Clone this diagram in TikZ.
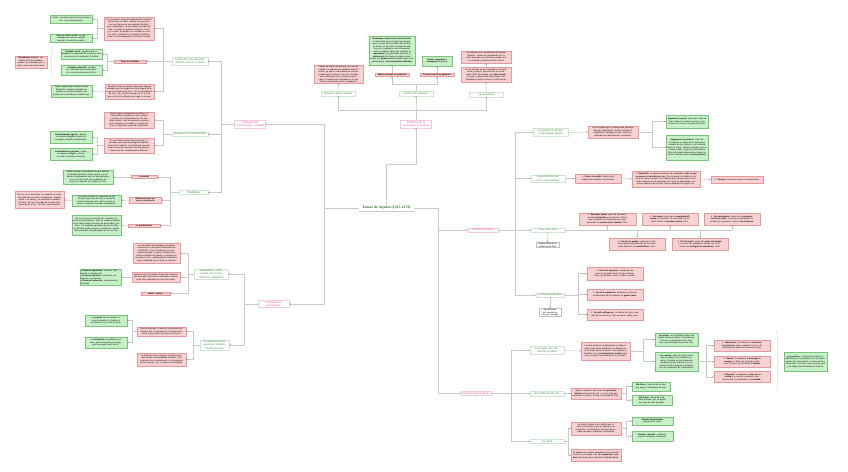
\documentclass[tikz,border=0pt]{standalone}
\usepackage{fontspec}
\setmainfont{Liberation Sans}
\newfontfamily\titlefont{Liberation Serif}
\usetikzlibrary{arrows.meta,shadows,decorations.pathreplacing}

\definecolor{pkfill}{HTML}{F8D2D2}
\definecolor{pkline}{HTML}{E49A9A}
\definecolor{grfill}{HTML}{C8F0C8}
\definecolor{grline}{HTML}{78C478}
\definecolor{tgtext}{HTML}{3F8F3F}
\definecolor{tgline}{HTML}{CDE4CD}
\definecolor{tptext}{HTML}{E2579B}
\definecolor{tpline}{HTML}{F6C8DA}
\definecolor{connc}{HTML}{C9C9C9}

\tikzset{
  boxbase/.style={font=\fontsize{2.1}{2.5}\selectfont, align=center, inner xsep=1pt, inner ysep=0.6pt, line width=0.35pt,
    drop shadow={opacity=0.18, shadow xshift=0.4pt, shadow yshift=-0.4pt}},
  pink/.style={boxbase, draw=pkline, fill=pkfill, text width=#1},
  green/.style={boxbase, draw=grline, fill=grfill, text width=#1},
  note/.style={boxbase, draw=gray!50, fill=white, text width=#1},
  topicg/.style={font=\fontsize{2.7}{3.2}\selectfont, align=center, inner xsep=1pt, inner ysep=1pt, draw=tgline, fill=white, text=tgtext, line width=0.45pt, text width=#1},
  topicp/.style={font=\fontsize{2.7}{3.2}\selectfont, align=center, inner xsep=1pt, inner ysep=1pt, draw=tpline, fill=white, text=tptext, line width=0.45pt, text width=#1},
  conn/.style={draw=connc, line width=0.5pt},
  arr/.style={conn, -{Stealth[length=1.5pt, width=1.3pt, color=gray!90]}},
  bracec/.style={draw=connc, line width=0.4pt, decorate, decoration={brace, amplitude=2.5pt}}
}

\begin{document}
\begin{tikzpicture}[x=1pt, y=-1pt]
  \useasboundingbox[fill=white] (0,0) rectangle (848,471);

  % centro
  \node[font=\titlefont\fontsize{3.8}{4.4}\selectfont, text=tgtext!80!black, inner xsep=3pt, inner ysep=1pt] (tomas) at (386.5,208) {\textbf{Tomás de Aquino (1225-1274)}};
  \draw[conn] (tomas.south west) -- (tomas.south east);

  % ---------- sociedad y politica
  \node[topicp=29pt] (psoc) at (416,124) {Problema de la sociedad y la política};
  \node[topicg=32pt] (igl) at (338,93.5) {Relación iglesia-estado};
  \node[topicg=32pt] (gob) at (416,93.5) {Formas de gobierno};
  \node[topicg=32pt] (pas) at (486.5,94.5) {Las pasiones};
  \node[pink=47pt, minimum height=17pt] (iglA) at (338.5,74.5) {Tomás de Aquino afirma que, en caso de conflicto, la iglesia tiene primacía sobre el estado, ya que lo sobrenatural es más importante que lo natural. Aun así, el estado tiene autonomía en los asuntos temporales y la iglesia solo interviene en lo que afecta a la salvación de los ciudadanos.};
  \node[pink=32pt] (mejor) at (392,75) {\textbf{Mejores formas de gobierno}};
  \node[pink=32pt] (peor) at (437,75) {\textbf{Peores formas de gobierno}};
  \node[green=44pt, minimum height=29pt] (mejorA) at (392,50.5) {\textbf{Monarquía, aristocracia y democracia}: la monarquía sería el mejor tipo de gobierno, ya que imita el orden del universo, en el que un solo Dios lo gobierna todo. Aun así, el gobierno más conveniente sería un régimen mixto que combine la \textbf{monarquía} (un gobernante virtuoso), la \textbf{aristocracia} (los mejores ayudan a gobernar) y la \textbf{democracia} (el pueblo elige a sus gobernantes): \textbf{una monarquía moderada}.};
  \node[green=28pt, minimum height=10pt] (peorA) at (437,61) {\textbf{Tiranía, oligarquía y demagogia} (impuras)};
  \node[pink=48pt, minimum height=15pt] (pasA) at (486,74.5) {El ser humano es por naturaleza un animal social y político: necesita vivir en comunidad. El fin del estado es el \textbf{bien común} y la paz; el gobernante debe dirigir a los ciudadanos hacia la virtud y la vida buena.};
  \node[pink=48pt, minimum height=12pt] (pasB) at (486,57) {Las pasiones son movimientos del apetito sensitivo. Deben ser gobernadas por la razón para que el ser humano pueda vivir en sociedad y alcanzar el bien común.};

  \draw[arr] (psoc.north) -- ++(0,-10) -| (igl.south);
  \draw[arr] (psoc.north) -- ++(0,-10) -| (gob.south);
  \draw[arr] (psoc.north) -- ++(0,-10) -| (pas.south);
  \draw[arr] (igl.north) -- (iglA.south);
  \draw[arr] (gob.north) -- ++(0,-7) -| (mejor.south);
  \draw[arr] (gob.north) -- ++(0,-7) -| (peor.south);
  \draw[arr] (mejor.north) -- (mejorA.south);
  \draw[arr] (peor.north) -- (peorA.south);
  \draw[arr] (pas.north) -- (pasA.south);
  \draw[arr] (pasA.north) -- (pasB.south);

  % ---------- conocimiento y realidad
  \node[topicp=29pt] (pconoc) at (250,124) {Problema del conocimiento y realidad};
  \node[topicg=34pt] (teoria) at (190,61.5) {Teoría del conocimiento: relación entre fe y razón};
  \node[topicg=34pt] (alma) at (190,134) {El alma y el conocimiento};
  \node[topicg=27pt] (meta) at (193.5,192.5) {Metafísica};

  \node[pink=48pt, minimum height=23pt] (tA) at (129,28.5) {En esta época surgió el problema de la relación entre la fe y la razón. Aquino cree que ambas son fuentes de conocimiento distintas pero compatibles, ya que ambas proceden de Dios. La razón no puede contradecir a la fe y, si lo hace, es porque ha cometido un error. Por tanto, la filosofía y la teología colaboran entre sí en la búsqueda de una única verdad.};
  \node[pink=30pt] (tB) at (130,61.5) {\textbf{Tipos de verdades}};
  \node[pink=47pt, minimum height=15pt] (tC) at (129.5,91.5) {Desde la razón se pueden demostrar algunas verdades que la teología da como dogma de fe, como la existencia de Dios. Son los preámbulos de la fe. Así, la razón ayuda a la fe, y la fe guía a la razón evitando que caiga en errores.};
  \node[green=40pt, minimum height=8pt] (tA1) at (71,19) {• Razón: facultad natural del ser humano\\ • Fe: vías sobrenaturales};
  \node[green=40pt, minimum height=8pt] (tA2) at (71,38) {Niega la doble verdad: no hay contradicción entre la verdad racional y la verdad revelada};
  \node[green=39pt, minimum height=10pt] (tB1) at (81.5,54) {\textbf{Verdades de fe}: aquellas que sobrepasan la capacidad de la razón y solo se conocen por revelación (Trinidad).};
  \node[green=39pt, minimum height=10pt] (tB2) at (81.5,70) {\textbf{Verdades naturales}: pueden ser conocidas por la razón natural, como la existencia de Dios.};
  \node[pink=30pt, minimum height=12pt] (pream) at (31,62) {\textbf{Preámbulos de la fe}: verdades de fe que también pueden ser conocidas por la razón, como que Dios existe.};
  \node[green=39pt, minimum height=12pt] (tC1) at (71.5,91) {Aquino piensa que teología natural (filosofía) y teología revelada coinciden en ciertas verdades, que pueden ser conocidas por ambas vías.};

  \node[pink=48pt, minimum height=16pt] (aA) at (129,120) {Aquino sigue el esquema aristotélico: el conocimiento comienza en los sentidos y termina en el entendimiento. No hay ideas innatas: todo conocimiento procede de la experiencia sensible, y la razón abstrae lo universal a partir de lo particular.};
  \node[pink=48pt, minimum height=15pt] (aB) at (129,145.5) {El conocimiento tiene dos momentos: el sensible, que capta las imágenes (fantasmas) de los objetos, y el intelectual, que abstrae la esencia universal. En este proceso intervienen dos entendimientos distintos.};
  \node[green=40pt, minimum height=12pt] (aB1) at (71,137) {\textbf{Entendimiento agente}: abstrae la especie inteligible a partir de la imagen sensible, iluminándola.};
  \node[green=40pt, minimum height=12pt] (aB2) at (71,154) {\textbf{Entendimiento paciente}: recibe la especie inteligible y forma con ella el concepto universal.};

  \node[pink=24pt] (mV) at (144,177) {\textbf{La verdad}};
  \node[pink=30pt] (mD) at (145.5,200) {\textbf{Diferencia entre esencia y existencia}};
  \node[pink=30pt] (mP) at (144,225.5) {\textbf{La participación}};
  \node[green=48pt, minimum height=14pt] (mV1) at (88,177) {Aquino acepta la concepción de que Dios es la verdad suprema y el ser mismo. La verdad es la adecuación entre el entendimiento y la cosa; las cosas son verdaderas en cuanto se adecuan a la mente de Dios.};
  \node[green=47pt, minimum height=11pt] (mD1) at (96.5,200.5) {Los seres creados se componen de esencia (lo que una cosa es) y existencia (el hecho de que sea). Solo en Dios esencia y existencia coinciden plenamente.};
  \node[pink=47pt, minimum height=17pt] (mD2) at (39.5,200) {Dios es el ser necesario: su esencia es existir. Las criaturas son seres contingentes: pueden existir o no existir, y la existencia la reciben de Dios, que las ha creado de la nada y las mantiene en el ser. Sin Dios, nada existiría.};
  \node[green=47pt, minimum height=20pt] (mP1) at (96.5,225) {Dios es el ser por esencia; las criaturas son seres por participación. Dios ha creado el mundo de la nada (creatio ex nihilo) de forma libre y por amor. Las criaturas participan del ser de Dios en distintos grados según su perfección: cuanto más perfectas, más participan del ser de Dios.};

  \draw[arr] (pconoc.west) -- ++(-13.5,0) |- (teoria.east);
  \draw[arr] (pconoc.west) -- ++(-13.5,0) |- (alma.east);
  \draw[arr] (pconoc.west) -- ++(-13.5,0) |- (meta.east);
  \draw[arr] (teoria.west) -- ++(-9,0) |- (tA.east);
  \draw[arr] (teoria.west) -- ++(-9,0) |- (tB.east);
  \draw[arr] (teoria.west) -- ++(-9,0) |- (tC.east);
  \draw[arr] (tA.west) -- ++(-7,0) |- (tA1.east);
  \draw[arr] (tA.west) -- ++(-7,0) |- (tA2.east);
  \draw[arr] (tB.west) -- ++(-7,0) |- (tB1.east);
  \draw[arr] (tB.west) -- ++(-7,0) |- (tB2.east);
  \draw[arr] (tC.west) -- (tC1.east);
  \draw[bracec] (53,77) -- (53,47);
  \draw[arr] (alma.west) -- ++(-9,0) |- (aA.east);
  \draw[arr] (alma.west) -- ++(-9,0) |- (aB.east);
  \draw[arr] (aB.west) -- ++(-7,0) |- (aB1.east);
  \draw[arr] (aB.west) -- ++(-7,0) |- (aB2.east);
  \draw[arr] (meta.west) -- ++(-9,0) |- (mV.east);
  \draw[arr] (meta.west) -- ++(-9,0) |- (mD.east);
  \draw[arr] (meta.west) -- ++(-9,0) |- (mP.east);
  \draw[arr] (mV.west) -- (mV1.east);
  \draw[arr] (mD.west) -- (mD1.east);
  \draw[arr] (mD1.west) -- (mD2.east);
  \draw[arr] (mP.west) -- (mP1.east);

  % ---------- ser humano
  \node[topicp=29pt] (pser) at (273.5,304) {Problema del ser humano};
  \node[topicg=32pt] (rel) at (211.5,274) {Relaciones y diferencias con el hilemorfismo aristotélico};
  \node[topicg=27pt] (dist) at (214.5,345) {La distinción entre esencia y existencia de la forma};
  \node[pink=45pt, minimum height=20pt] (rA) at (156.5,253) {La concepción antropológica de Aquino se basa en la concepción hilemórfica de Aristóteles: el ser humano es un compuesto de alma y cuerpo. El alma es la forma sustancial del cuerpo y el cuerpo es la materia. Pero, a diferencia de Aristóteles, Aquino defiende que el alma es inmortal.};
  \node[pink=46pt, minimum height=10pt] (rB) at (156,277) {Aquino aceptó el análisis de las tres potencias del alma que había hecho Aristóteles, aunque todas ellas dependen de una única alma.};
  \node[pink=27pt] (rC) at (155.5,293.5) {\textbf{Alma + cuerpo}};
  \node[green=39pt, minimum height=16pt, align=left] (rB1) at (100.5,277) {• \textbf{Potencia vegetativa}: nutrición, crecimiento y reproducción\\ • \textbf{Potencia sensitiva}: sensación, percepción y movimiento\\ • \textbf{Potencia intelectiva}: conocimiento y voluntad};
  \node[pink=47pt, minimum height=9pt] (dA) at (161.5,331.5) {Para el pensador, el alma es una forma subsistente, que no depende de la materia para existir y que posee su propio acto de ser.};
  \node[pink=47pt, minimum height=13pt] (dB) at (161.5,359.5) {La distinción entre esencia y existencia permite afirmar la inmortalidad del alma: esta recibe de Dios su existencia y no la pierde al morir el cuerpo. Así, el alma es incorruptible.};
  \node[green=40pt, minimum height=11pt] (dA1) at (106,320.5) {La \textbf{esencia} del ser humano incluye la materia y la forma: el ser humano no es solo su alma.};
  \node[green=40pt, minimum height=11pt] (dA2) at (106,342.5) {La \textbf{existencia} es recibida por el alma, que la comunica al cuerpo; por eso puede existir sin él.};

  \draw[arr] (pser.west) -- ++(-14,0) |- (rel.east);
  \draw[arr] (pser.west) -- ++(-14,0) |- (dist.east);
  \draw[arr] (rel.west) -- ++(-6,0) |- (rA.east);
  \draw[arr] (rel.west) -- ++(-6,0) |- (rB.east);
  \draw[arr] (rel.west) -- ++(-6,0) |- (rC.east);
  \draw[arr] (rB.west) -- (rB1.east);
  \draw[arr] (dist.west) -- ++(-7,0) |- (dA.east);
  \draw[arr] (dist.west) -- ++(-7,0) |- (dB.east);
  \draw[arr] (dA.west) -- ++(-5,0) |- (dA1.east);
  \draw[arr] (dA.west) -- ++(-5,0) |- (dA2.east);

  % ---------- tronco
  \draw[arr] (tomas.west) -- ++(-35,0) |- (pconoc.east);
  \draw[arr] (tomas.west) -- ++(-35,0) |- (pser.east);
  \draw[arr] (tomas.north) -- ++(0,-41) -| (psoc.south);

  % ---------- Dios
  \node[topicp=28pt] (pdios) at (483,230) {Problema de Dios};
  \node[topicp=28pt] (pmoral) at (476,393.5) {Problema de la moral};
  \draw[arr] (tomas.east) -- ++(24,0) |- (pdios.west);
  \draw[arr] (tomas.east) -- ++(24,0) |- (pmoral.west);

  \node[topicg=33pt] (exist) at (550.5,132.5) {La existencia de Dios y la teología natural};
  \node[topicg=32pt] (estr) at (548,178.5) {Estructura de las cinco vías tomistas};
  \node[topicg=32pt] (vias) at (548,230) {Las cinco vías};
  \node[topicg=26pt] (esen) at (550,295) {La esencia de Dios};
  \draw[arr] (pdios.east) -- ++(17,0) |- (exist.west);
  \draw[arr] (pdios.east) -- ++(17,0) |- (estr.west);
  \draw[arr] (pdios.east) -- ++(17,0) |- (vias.west);
  \draw[arr] (pdios.east) -- ++(17,0) |- (esen.west);

  \node[pink=48pt, minimum height=12pt] (exA) at (613,132) {No es evidente por sí misma para nosotros: hay que demostrarla. Aquino rechaza el argumento ontológico de san Anselmo y defiende una demostración a posteriori.};
  \node[green=40pt, minimum height=13pt] (exA1) at (687,121.5) {\textbf{Argumento a priori}: parte de la idea de Dios; Aquino lo rechaza porque el ser humano no conoce la esencia de Dios.};
  \node[green=40pt, minimum height=25pt] (exA2) at (687,147.5) {\textbf{Argumento a posteriori}: parte de los efectos, es decir, de la experiencia sensible de las criaturas, y se remonta hasta su causa. Aquino considera que es el único válido, ya que la existencia de Dios solo puede demostrarse desde los efectos visibles hasta \textbf{la causa primera}.};
  \draw[arr] (exist.east) -- (exA.west);
  \draw[arr] (exA.east) -- ++(14,0) |- (exA1.west);
  \draw[arr] (exA.east) -- ++(14,0) |- (exA2.west);

  \node[pink=44pt, minimum height=9pt] (eS1) at (598,178.5) {1. \textbf{Punto de partida}: hecho de la experiencia sensible (a posteriori).};
  \node[pink=66pt, minimum height=16pt] (eS2) at (666,179) {2. \textbf{Desarrollo}: se aplica el principio de causalidad: \textbf{todo lo que se mueve es movido por otro}. No se puede ir al infinito en la serie de causas, porque si no hubiera una primera causa no existiría ninguna de las siguientes; por tanto, se debe llegar a un primer elemento de la serie, que no depende de ningún otro.};
  \node[pink=50pt, minimum height=7pt] (eS3) at (737,179.5) {3. \textbf{Término}: la primera causa es siempre Dios.};
  \draw[arr] (estr.east) -- (eS1.west);
  \draw[arr] (eS1.east) -- (eS2.west);
  \draw[arr] (eS2.east) -- (eS3.west);

  \node[note=21pt] (demo) at (547.5,245) {Demostración de la existencia de Dios};
  \draw[arr] (vias.south) -- (demo.north);
  \node[pink=55pt, minimum height=12pt] (v1) at (607.5,219) {1. \textbf{El primer motor}: parte de la existencia del \textbf{movimiento} en el mundo. Todo lo que se mueve es movido por otro; tiene que haber un \textbf{primer motor inmóvil}: Dios.};
  \node[pink=54pt, minimum height=12pt] (v2) at (670,219) {2. \textbf{Vía causal}: parte de la \textbf{causalidad eficiente} en el mundo. No se puede ir al infinito; existe una \textbf{primera causa}: Dios.};
  \node[pink=54pt, minimum height=12pt] (v3) at (732,219) {3. \textbf{Vía contingente}: parte de la \textbf{contingencia de los seres}. Los seres contingentes no existen por sí mismos: hay un \textbf{ser necesario}.};
  \node[pink=54pt, minimum height=12pt] (v4) at (637,244) {4. \textbf{Vía de los grados}: parte de los distintos grados de perfección de los seres. Debe existir un ser \textbf{perfectísimo}: Dios.};
  \node[pink=54pt, minimum height=12pt] (v5) at (700,244) {5. \textbf{Vía del orden}: parte del \textbf{orden del mundo}. Los seres sin inteligencia actúan con un fin; existe una \textbf{inteligencia ordenadora}: Dios.};
  \draw[conn] (vias.east) -- (v3.south |- vias.east);
  \foreach \v in {v1,v2,v3,v4,v5}
    \draw[arr] (\v.center |- vias.east) -- (\v);

  \node[note=20pt] (aprox) at (550,312.5) {Aproximación a la esencia de Dios por analogía};
  \draw[arr] (esen.south) -- (aprox.north);
  \node[pink=54pt, minimum height=13pt] (e1) at (615,273.5) {1. \textbf{Vía de la negación}: eliminamos de Dios las imperfecciones de las criaturas: Dios es inmutable, eterno, infinito y simple.};
  \node[pink=54pt, minimum height=11pt] (e2) at (615,294.5) {2. \textbf{Vía de la eminencia}: atribuimos a Dios las perfecciones de las criaturas en \textbf{grado sumo}.};
  \node[pink=54pt, minimum height=11pt] (e3) at (615,314.5) {3. \textbf{Vía de la afirmación}: se afirma de Dios lo positivo de las criaturas: Dios es bueno, sabio, justo.};
  \draw[arr] (esen.east) -- ++(14,0) |- (e1.west);
  \draw[arr] (esen.east) -- ++(14,0) |- (e2.west);
  \draw[arr] (esen.east) -- ++(14,0) |- (e3.west);

  % ---------- moral
  \node[topicg=32pt] (leyes) at (547,350.5) {Las leyes: ley natural, ley positiva};
  \node[topicg=32pt] (mal) at (547,393.5) {El problema del mal};
  \node[topicg=32pt] (virt) at (547,441.5) {La virtud};
  \draw[arr] (pmoral.east) -- ++(20,0) |- (leyes.west);
  \draw[arr] (pmoral.east) -- ++(20,0) |- (mal.west);
  \draw[arr] (pmoral.east) -- ++(20,0) |- (virt.west);

  \node[pink=47pt, minimum height=18pt] (lA) at (605.5,351) {La ética tomista es eudemonista e intelectualista, como la de Aristóteles: la felicidad es el fin último del ser humano. Pero Aquino la identifica con la \textbf{contemplación de Dios}, que solo se alcanza plenamente en la otra vida.};
  \node[green=41pt, minimum height=13pt] (lG1) at (676.5,339.5) {\textbf{Ley eterna}: es el gobierno divino del mundo hecho por Dios, la Providencia. Esta ley se encuentra en las criaturas, que participan del ser de Dios.};
  \node[green=41pt, minimum height=19pt] (lG2) at (676.5,361.5) {\textbf{Ley natural}: parte de la ley eterna que se refleja en la condición humana. Consiste en las tendencias naturales del ser humano y se expresa en tres preceptos en relación con las tendencias de la naturaleza.};
  \node[pink=54pt, minimum height=11pt] (n1) at (742,345.5) {1. \textbf{Naturaleza}: la tendencia a \textbf{conservar la existencia}, como cualquier otro ser; de ella deriva el deber de conservar la vida.};
  \node[pink=54pt, minimum height=11pt] (n2) at (742,361.5) {2. \textbf{Animal}: la tendencia a \textbf{propagar la especie}: el deber de procrear y educar a los hijos; de ahí deriva la \textbf{familia}.};
  \node[pink=54pt, minimum height=11pt] (n3) at (742,377) {3. \textbf{Racional}: la tendencia a \textbf{vivir en sociedad} y a conocer la verdad; el deber de vivir en comunidad: la \textbf{sociedad}.};
  \node[green=41pt, minimum height=19pt] (lpos) at (805.5,361.5) {\textbf{Ley positiva}: conjunto de normas establecidas por la sociedad. Es una prolongación de la ley natural, y nunca puede ir contra ella; si lo hace, no es una ley justa y no obliga (iusnaturalismo de Aquino).};
  \draw[arr] (leyes.east) -- (lA.west);
  \draw[arr] (lA.east) -- ++(13,0) |- (lG1.west);
  \draw[arr] (lA.east) -- ++(13,0) |- (lG2.west);
  \draw[arr] (lG2.east) -- ++(8,0) |- (n1.west);
  \draw[arr] (lG2.east) -- ++(8,0) |- (n2.west);
  \draw[arr] (lG2.east) -- ++(8,0) |- (n3.west);
  \draw[bracec] (776,331) -- (776,391);

  \node[pink=48pt, minimum height=11pt] (malA) at (596,393.5) {Aquino concibe el mal como una \textbf{privación de bien} (ausencia de ser), no como algo que exista por sí mismo. El mal no procede de Dios.};
  \node[green=36pt, minimum height=9pt] (mal1) at (651,386.5) {\textbf{Mal físico}: carencia de un bien que exige la naturaleza de algo.};
  \node[green=38pt, minimum height=10pt] (mal2) at (652,400) {\textbf{Mal moral}: deriva de la libertad humana, que se aparta de la ley de Dios (pecado).};
  \draw[arr] (mal.east) -- (malA.west);
  \draw[arr] (malA.east) -- ++(5,0) |- (mal1.west);
  \draw[arr] (malA.east) -- ++(5,0) |- (mal2.west);

  \node[pink=48pt, minimum height=13pt] (vA) at (596,428.5) {La virtud consiste en un hábito que inclina a obrar bien y que se adquiere con la práctica. Se distinguen dos tipos de virtudes naturales, siguiendo a Aristóteles.};
  \node[pink=48pt, minimum height=12pt] (vB) at (596,455) {Se añaden las virtudes teologales, que proceden de Dios y se dirigen a Él: \textbf{fe}, \textbf{esperanza} y \textbf{caridad}, necesarias para alcanzar la felicidad plena.};
  \node[green=39pt, minimum height=8pt] (vA1) at (652.5,421) {\textbf{Virtudes intelectuales}: propias de la razón.};
  \node[green=39pt, minimum height=10pt] (vA2) at (652.5,436) {\textbf{Virtudes morales}: prudencia, justicia, fortaleza y templanza.};
  \draw[arr] (virt.east) -- ++(4,0) |- (vA.west);
  \draw[arr] (virt.east) -- ++(4,0) |- (vB.west);
  \draw[arr] (vA.east) -- ++(5,0) |- (vA1.west);
  \draw[arr] (vA.east) -- ++(5,0) |- (vA2.west);
\end{tikzpicture}
\end{document}
